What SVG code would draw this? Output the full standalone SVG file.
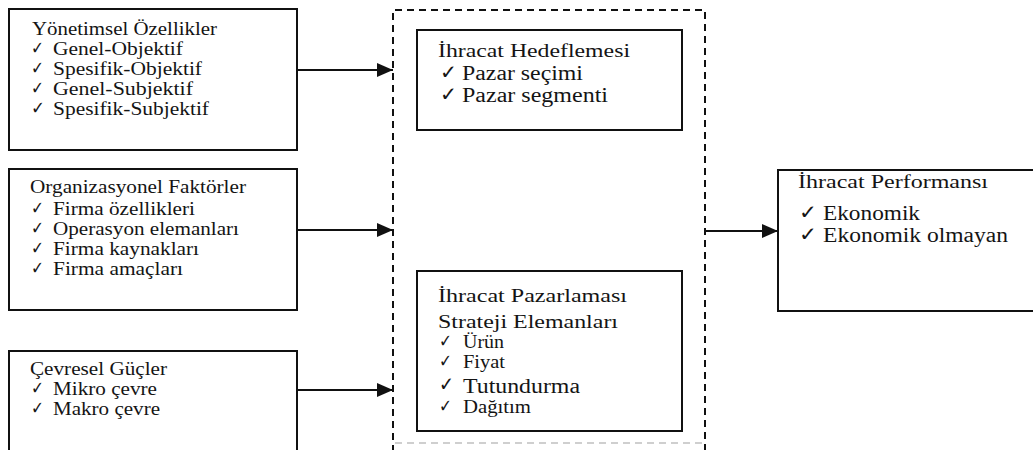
<svg xmlns="http://www.w3.org/2000/svg" width="1033" height="450" viewBox="0 0 1033 450">
  <style>
    .box { fill: #ffffff; stroke: #111111; stroke-width: 2; }
    .dash { fill: none; stroke: #111111; stroke-width: 2; stroke-dasharray: 7 5; }
    .dash-faint { fill: none; stroke: #cfcfcf; stroke-width: 2; stroke-dasharray: 7 5; }
    .edge { stroke: #111111; stroke-width: 2; fill: none; marker-end: url(#arrow); }
    .t, .b { font-family: 'Liberation Serif', 'DejaVu Serif', serif; fill: #141414; }
    .t { font-size: 18px; }
    .b { font-size: 20.5px; }
    .ck { font-family: 'DejaVu Sans', sans-serif; font-size: 18px; fill: #151515; }
    .ck2 { font-family: 'DejaVu Sans', sans-serif; font-size: 20px; fill: #151515; }
  </style>
  <defs>
    <marker id="arrow" markerUnits="userSpaceOnUse" markerWidth="16" markerHeight="14" refX="16" refY="7" orient="auto">
      <path d="M0,0 L16,7 L0,14 Z" fill="#111111"/>
    </marker>
  </defs>
  <rect width="1033" height="450" fill="#ffffff"/>

  <!-- Grouping frame around the two strategy boxes -->
  <g id="strategy-frame">
    <path class="dash" d="M393,452 L393,10 L705,10 L705,452"/>
    <line class="dash-faint" x1="395" y1="443" x2="703" y2="443"/>
  </g>

  <g id="connectors">
    <line class="edge" x1="297" y1="70" x2="393" y2="70"/>
    <line class="edge" x1="297" y1="230" x2="393" y2="230"/>
    <line class="edge" x1="297" y1="390" x2="393" y2="390"/>
    <line class="edge" x1="705" y1="231" x2="778" y2="231"/>
  </g>

  <g id="yonetimsel">
    <rect class="box" x="9" y="9" width="288" height="141"/>
    <text class="t" x="32" y="35" textLength="185" lengthAdjust="spacingAndGlyphs">Yönetimsel Özellikler</text>
    <text class="ck" x="31" y="54" textLength="13" lengthAdjust="spacingAndGlyphs">✓</text>
    <text class="t" x="53" y="55" textLength="130" lengthAdjust="spacingAndGlyphs">Genel-Objektif</text>
    <text class="ck" x="31" y="74" textLength="13" lengthAdjust="spacingAndGlyphs">✓</text>
    <text class="t" x="53" y="75" textLength="149" lengthAdjust="spacingAndGlyphs">Spesifik-Objektif</text>
    <text class="ck" x="31" y="94" textLength="13" lengthAdjust="spacingAndGlyphs">✓</text>
    <text class="t" x="53" y="95" textLength="140" lengthAdjust="spacingAndGlyphs">Genel-Subjektif</text>
    <text class="ck" x="31" y="114" textLength="14" lengthAdjust="spacingAndGlyphs">✓</text>
    <text class="t" x="53" y="115" textLength="156" lengthAdjust="spacingAndGlyphs">Spesifik-Subjektif</text>
  </g>

  <g id="organizasyonel">
    <rect class="box" x="9" y="169" width="288" height="141"/>
    <text class="t" x="30" y="193" textLength="216" lengthAdjust="spacingAndGlyphs">Organizasyonel Faktörler</text>
    <text class="ck" x="31" y="214" textLength="13" lengthAdjust="spacingAndGlyphs">✓</text>
    <text class="t" x="53" y="215" textLength="142" lengthAdjust="spacingAndGlyphs">Firma özellikleri</text>
    <text class="ck" x="31" y="234" textLength="13" lengthAdjust="spacingAndGlyphs">✓</text>
    <text class="t" x="53" y="235" textLength="186" lengthAdjust="spacingAndGlyphs">Operasyon elemanları</text>
    <text class="ck" x="31" y="254" textLength="13" lengthAdjust="spacingAndGlyphs">✓</text>
    <text class="t" x="53" y="255" textLength="146" lengthAdjust="spacingAndGlyphs">Firma kaynakları</text>
    <text class="ck" x="31" y="274" textLength="13" lengthAdjust="spacingAndGlyphs">✓</text>
    <text class="t" x="53" y="275" textLength="130" lengthAdjust="spacingAndGlyphs">Firma amaçları</text>
  </g>

  <g id="cevresel">
    <rect class="box" x="9" y="351" width="288" height="120"/>
    <text class="t" x="30" y="375" textLength="137" lengthAdjust="spacingAndGlyphs">Çevresel Güçler</text>
    <text class="ck" x="31" y="394" textLength="13" lengthAdjust="spacingAndGlyphs">✓</text>
    <text class="t" x="53" y="395" textLength="104" lengthAdjust="spacingAndGlyphs">Mikro çevre</text>
    <text class="ck" x="31" y="414" textLength="13" lengthAdjust="spacingAndGlyphs">✓</text>
    <text class="t" x="53" y="415" textLength="107" lengthAdjust="spacingAndGlyphs">Makro çevre</text>
  </g>

  <g id="hedefleme">
    <rect class="box" x="417" y="30" width="265" height="100"/>
    <text class="t" x="438" y="57" textLength="192" lengthAdjust="spacingAndGlyphs">İhracat Hedeflemesi</text>
    <text class="ck2" x="440" y="79" textLength="17" lengthAdjust="spacingAndGlyphs">✓</text>
    <text class="b" x="462" y="80" textLength="121" lengthAdjust="spacingAndGlyphs">Pazar seçimi</text>
    <text class="ck2" x="440" y="101" textLength="17" lengthAdjust="spacingAndGlyphs">✓</text>
    <text class="b" x="462" y="102" textLength="146" lengthAdjust="spacingAndGlyphs">Pazar segmenti</text>
  </g>

  <g id="pazarlama">
    <rect class="box" x="417" y="271" width="265" height="160"/>
    <text class="t" x="438" y="302" textLength="189" lengthAdjust="spacingAndGlyphs">İhracat Pazarlaması</text>
    <text class="t" x="438" y="328" textLength="180" lengthAdjust="spacingAndGlyphs">Strateji Elemanları</text>
    <text class="ck" x="439" y="347" textLength="13" lengthAdjust="spacingAndGlyphs">✓</text>
    <text class="t" x="463" y="348" textLength="41" lengthAdjust="spacingAndGlyphs">Ürün</text>
    <text class="ck" x="439" y="367" textLength="13" lengthAdjust="spacingAndGlyphs">✓</text>
    <text class="t" x="463" y="368" textLength="42" lengthAdjust="spacingAndGlyphs">Fiyat</text>
    <text class="ck2" x="439" y="391" textLength="15" lengthAdjust="spacingAndGlyphs">✓</text>
    <text class="b" x="463" y="393" textLength="117" lengthAdjust="spacingAndGlyphs">Tutundurma</text>
    <text class="ck" x="439" y="412" textLength="13" lengthAdjust="spacingAndGlyphs">✓</text>
    <text class="t" x="463" y="413" textLength="68" lengthAdjust="spacingAndGlyphs">Dağıtım</text>
  </g>

  <g id="performans">
    <rect class="box" x="778" y="170" width="270" height="141"/>
    <text class="t" x="798" y="188" textLength="190" lengthAdjust="spacingAndGlyphs">İhracat Performansı</text>
    <text class="ck2" x="799" y="219" textLength="18" lengthAdjust="spacingAndGlyphs">✓</text>
    <text class="b" x="823" y="220" textLength="97" lengthAdjust="spacingAndGlyphs">Ekonomik</text>
    <text class="ck2" x="799" y="241" textLength="18" lengthAdjust="spacingAndGlyphs">✓</text>
    <text class="b" x="823" y="242" textLength="185" lengthAdjust="spacingAndGlyphs">Ekonomik olmayan</text>
  </g>
</svg>
